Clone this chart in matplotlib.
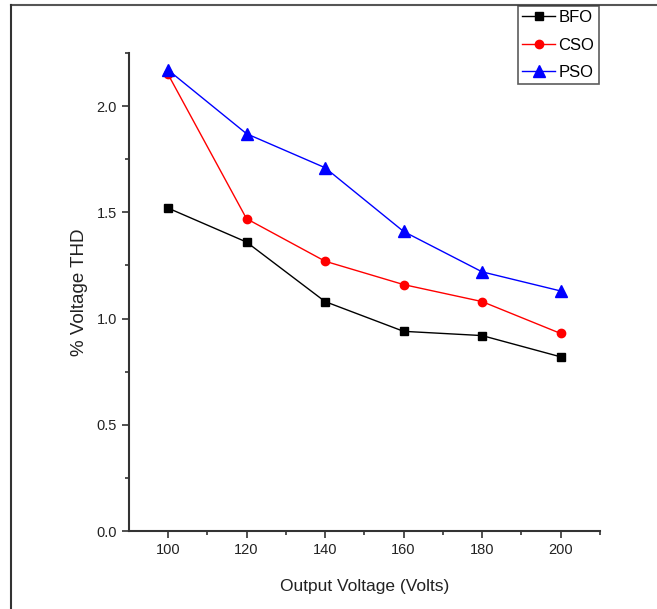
import matplotlib
matplotlib.use("Agg")
import matplotlib.pyplot as plt
from matplotlib.lines import Line2D

plt.rcParams['font.family'] = ['Liberation Sans', 'DejaVu Sans']

voltage = [100, 120, 140, 160, 180, 200]
bfo = [1.52, 1.36, 1.08, 0.94, 0.92, 0.82]
cso = [2.15, 1.47, 1.27, 1.16, 1.08, 0.93]
pso = [2.17, 1.87, 1.71, 1.41, 1.22, 1.13]

fig = plt.figure(figsize=(6.57, 6.09), dpi=100)
ax = fig.add_axes([0.196, 0.128, 0.717, 0.785])

l1, = ax.plot(voltage, bfo, color='black', lw=1, marker='s', ms=6, label='BFO')
l2, = ax.plot(voltage, cso, color='red', lw=1, marker='o', ms=6, label='CSO')
l3, = ax.plot(voltage, pso, color='blue', lw=1, marker='^', ms=8, label='PSO')

ax.set_xlim(90, 210)
ax.set_ylim(0, 2.25)
ax.set_xticks(voltage)
ax.set_xticks([110, 130, 150, 170, 190, 210], minor=True)
ax.set_yticks([0.0, 0.5, 1.0, 1.5, 2.0])
ax.set_yticks([0.25, 0.75, 1.25, 1.75, 2.25], minor=True)
ax.set_yticklabels(['0.0', '0.5', '1.0', '1.5', '2.0'])

for s in ['top', 'right']:
    ax.spines[s].set_visible(False)
for s in ['left', 'bottom']:
    ax.spines[s].set_color('#333333')
    ax.spines[s].set_linewidth(1.5)
ax.tick_params(which='major', direction='out', length=5, width=1.2, color='#333333',
               labelsize=10.5, labelcolor='#222222')
ax.tick_params(which='minor', direction='out', length=3, width=1.2, color='#333333')

ax.set_xlabel('Output Voltage (Volts)', fontsize=12.5, color='#222222', labelpad=16)
ax.set_ylabel('% Voltage THD', fontsize=13.5, color='#222222', labelpad=6)

leg = fig.legend(handles=[l1, l2, l3], loc='upper left', bbox_to_anchor=(0.788, 0.99),
                 fontsize=12, frameon=True, fancybox=False, handlelength=2.0,
                 borderpad=0.25, labelspacing=0.75, handletextpad=0.2, borderaxespad=0)
leg.get_frame().set_edgecolor('#333333')
leg.get_frame().set_linewidth(1.2)

# outer frame lines of the original image
fig.add_artist(Line2D([11 / 657, 1], [1 - 5 / 609, 1 - 5 / 609], color='#555555', lw=1.5,
                      transform=fig.transFigure))
fig.add_artist(Line2D([11 / 657, 11 / 657], [0, 1 - 5 / 609], color='#333333', lw=1.5,
                      transform=fig.transFigure))

fig.savefig('out.png', dpi=100)
